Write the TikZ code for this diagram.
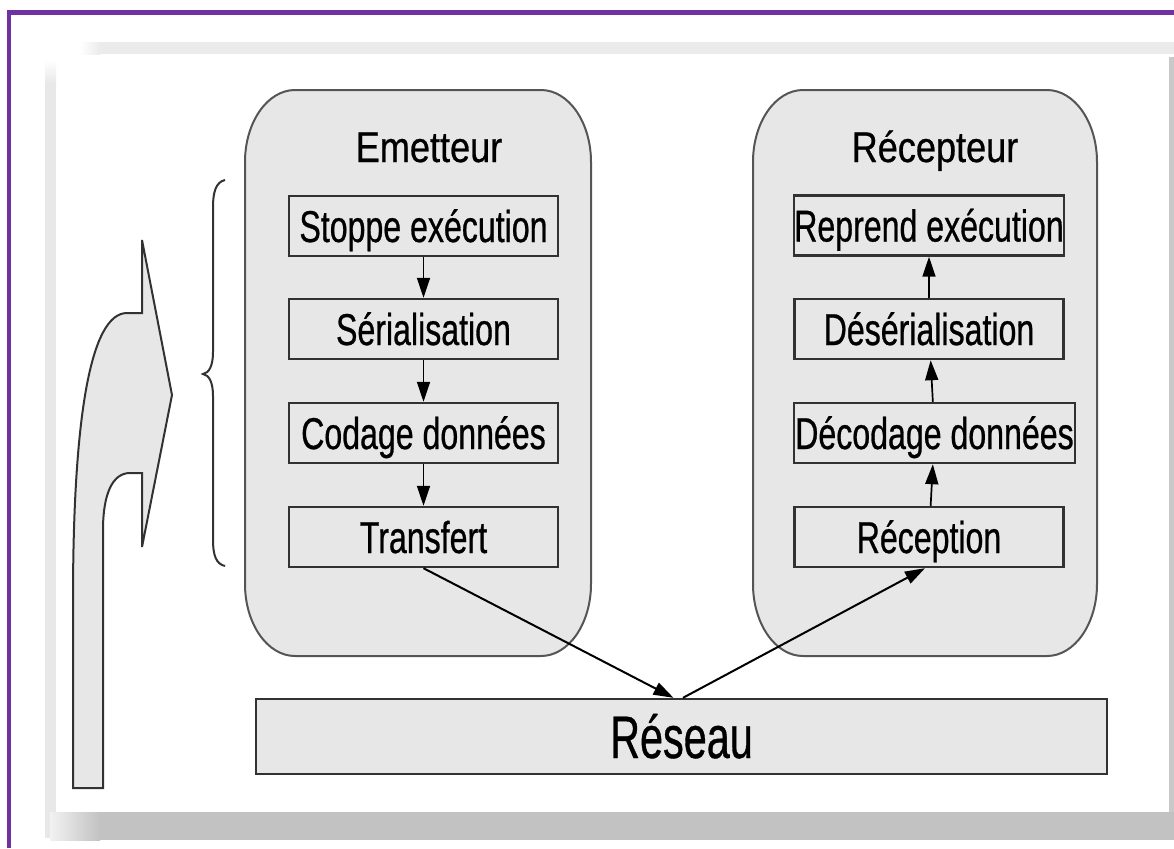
\documentclass[tikz,border=0pt]{standalone}
\usepackage{fontspec}
\setmainfont{Liberation Sans}
\newfontfamily\boxfont[FakeStretch=0.72,FakeBold=0.6]{Liberation Sans}
\newfontfamily\titlefont[FakeStretch=0.84,FakeBold=0.6]{Liberation Sans}
\newfontfamily\netfont[FakeStretch=0.69,FakeBold=0.6]{Liberation Sans}
\usetikzlibrary{arrows.meta}

\definecolor{framepurple}{RGB}{112,48,160}
\definecolor{panelgray}{RGB}{230,231,230}
\definecolor{edgegray}{RGB}{50,50,50}
\definecolor{rimgray}{RGB}{85,85,85}

\tikzset{
  stepbox/.style={draw=edgegray, line width=1.2pt, fill=panelgray,
    minimum width=134.5pt, minimum height=30pt, inner sep=0pt,
    font={\boxfont\fontsize{22.3pt}{24pt}\selectfont},
    text height=16pt, text depth=0pt},
  netbox/.style={draw=edgegray, line width=1.2pt, fill=panelgray,
    minimum width=425.5pt, minimum height=37.5pt, inner sep=0pt,
    font={\netfont\fontsize{30pt}{32pt}\selectfont},
    text height=21.5pt, text depth=0pt},
  titletext/.style={inner sep=0pt, anchor=base,
    font={\titlefont\fontsize{21.5pt}{23pt}\selectfont}},
  container/.style={draw=rimgray, line width=1pt, fill=panelgray},
  flow/.style={draw=black, line width=0.85pt,
    -{Triangle[length=10pt,width=6.5pt]}},
  linkflow/.style={flow, line width=1pt},
  outline/.style={draw=edgegray, line width=1pt}
}

\begin{document}
\begin{tikzpicture}[x=0.5pt,y=-0.5pt]
\useasboundingbox (0,0) rectangle (1174,848);
\fill[white] (0,0) rectangle (1174,848);

% page frame
\draw[framepurple, line width=2.25pt] (9,848) -- (9,12.5) -- (1174,12.5);

% drop shadows around the white panel
\fill[gray!16] (100,42) rectangle (1174,54);
\shade[left color=white, right color=gray!16] (80,42) rectangle (100,54);
\fill[gray!18] (45,83) rectangle (56,838);
\shade[top color=white, bottom color=gray!18] (45,60) rectangle (56,83);
\fill[gray!48] (100,812) rectangle (1174,840);
\shade[left color=gray!10, right color=gray!48] (50,812) rectangle (100,840);
\fill[gray!42] (1169,57) rectangle (1174,812);

% sender and receiver containers
\path[container] (295,90) -- (541,90) .. controls (568.6,90) and (591,122.2) .. (591,162)
  -- (591,584) .. controls (591,623.8) and (568.6,656) .. (541,656)
  -- (295,656) .. controls (267.4,656) and (245,623.8) .. (245,584)
  -- (245,162) .. controls (245,122.2) and (267.4,90) .. (295,90) -- cycle;
\path[container] (803,90) -- (1047,90) .. controls (1074.6,90) and (1097,122.2) .. (1097,162)
  -- (1097,584) .. controls (1097,623.8) and (1074.6,656) .. (1047,656)
  -- (803,656) .. controls (775.4,656) and (753,623.8) .. (753,584)
  -- (753,162) .. controls (753,122.2) and (775.4,90) .. (803,90) -- cycle;

% bent arrow on the left
\path[outline, fill=panelgray] (73,788) -- (73,600)
  .. controls (73,420) and (90,313) .. (127,313) -- (142,313) -- (142,240)
  -- (172,395) -- (142,547) -- (142,473) -- (130,473)
  .. controls (112,473) and (103,495) .. (103,530) -- (103,788) -- cycle;

% brace grouping the sender steps
\draw[outline] (225,180) .. controls (216,182) and (213,192) .. (213,207)
  -- (213,352) .. controls (213,366) and (209,373) .. (203,374)
  .. controls (209,375) and (213,382) .. (213,396)
  -- (213,540) .. controls (213,555) and (216,564) .. (225,566);

% titles
\node[titletext] (sendtitle) at (429,162) {Emetteur};
\node[titletext] (recvtitle) at (935,162) {Récepteur};

% sender steps
\node[stepbox] (stop) at (423.5,226) {Stoppe exécution};
\node[stepbox] (serial) at (423.5,329) {Sérialisation};
\node[stepbox] (code) at (423.5,433) {Codage données};
\node[stepbox] (transfer) at (423.5,537) {Transfert};

% receiver steps
\node[stepbox] (resume) at (929,225.5) {Reprend exécution};
\node[stepbox] (deserial) at (929,329) {Désérialisation};
\node[stepbox, minimum width=140.5pt] (decode) at (934.5,433) {Décodage données};
\node[stepbox] (receive) at (929,537) {Réception};

% network
\node[netbox] (net) at (681.5,736.5) {Réseau};

% connectors
\draw[flow] (stop) -- (serial);
\draw[flow] (serial) -- (code);
\draw[flow] (code) -- (transfer);
\draw[linkflow] (transfer.south) -- ([xshift=-4pt]net.north);
\draw[linkflow] ([xshift=0.75pt]net.north) -- ([xshift=-2pt]receive.south);
\draw[flow] (receive) -- (decode);
\draw[flow] (decode) -- (deserial);
\draw[flow] (deserial) -- (resume);
\end{tikzpicture}
\end{document}
